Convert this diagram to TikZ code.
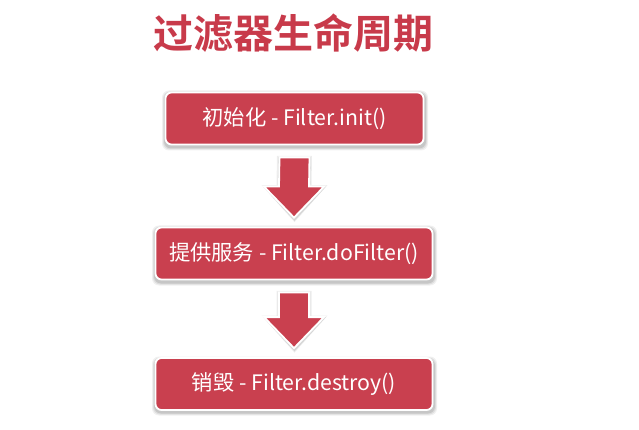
\documentclass[tikz,border=0pt]{standalone}
\usepackage{fontspec}
\setmainfont{Noto Sans CJK SC}
\newfontfamily\cjkbold{Noto Sans CJK SC Bold}
\usetikzlibrary{calc}
\definecolor{boxred}{HTML}{C9404F}
\definecolor{titlered}{HTML}{C83A4A}
\begin{document}
\begin{tikzpicture}[x=1pt,y=-1pt,
  stagebox/.style={draw=white,line width=1.8pt,fill=boxred,rounded corners=6pt,
    text=white,font=\fontsize{21.3}{24}\selectfont,minimum height=52pt,inner sep=0pt},
  bigarrow/.style={draw=white,line width=1.8pt,fill=boxred,line join=miter}]
\useasboundingbox (0,0) rectangle (639,430);
\node[font=\cjkbold\fontsize{40}{46}\selectfont,text=titlered] (title) at (293,33) {过滤器生命周期};
% soft shadows
\foreach \x/\y/\X/\Y in {165/92/424/146,155/227/433/281,155/358/433/411}{
  \foreach \d/\o in {3/0.06,2/0.08,1/0.10}{
    \fill[black,opacity=\o,rounded corners=7pt] (\x-\d,\y-\d+1.5) rectangle (\X+\d+1,\Y+\d+1.5);
  }
}
\node[stagebox,minimum width=258pt] (b1) at (294.5,118.5) {初始化 - Filter.init()};
\node[stagebox,minimum width=277pt] (b2) at (294,253.5) {提供服务 - Filter.doFilter()};
\node[stagebox,minimum width=277pt] (b3) at (294,384) {销毁 - Filter.destroy()};
% arrows
\foreach \a/\b in {b1/b2,b2/b3}{
  \coordinate (top) at ($(\a.south)+(0,12)$);
  \coordinate (tip) at ($(\b.north)+(0,-9)$);
  \foreach \d/\o in {2.5/0.07,1.2/0.10}{
  \fill[black,opacity=\o] ($(top)+(-15-\d,1-\d)$) -- ($(top)+(15+\d,1-\d)$) -- ($(tip)+(15+\d,-30-\d)$) -- ($(tip)+(31+\d,-30-\d)$) -- ($(tip)+(0.5,2+\d)$) -- ($(tip)+(-30-\d,-30-\d)$) -- ($(tip)+(-15-\d,-30-\d)$) -- cycle;}
  \draw[bigarrow] ($(top)+(-15,0)$) -- ($(top)+(15,0)$) -- ($(tip)+(15,-31)$) -- ($(tip)+(30,-31)$) -- (tip) -- ($(tip)+(-30,-31)$) -- ($(tip)+(-15,-31)$) -- cycle;
}
\end{tikzpicture}
\end{document}
